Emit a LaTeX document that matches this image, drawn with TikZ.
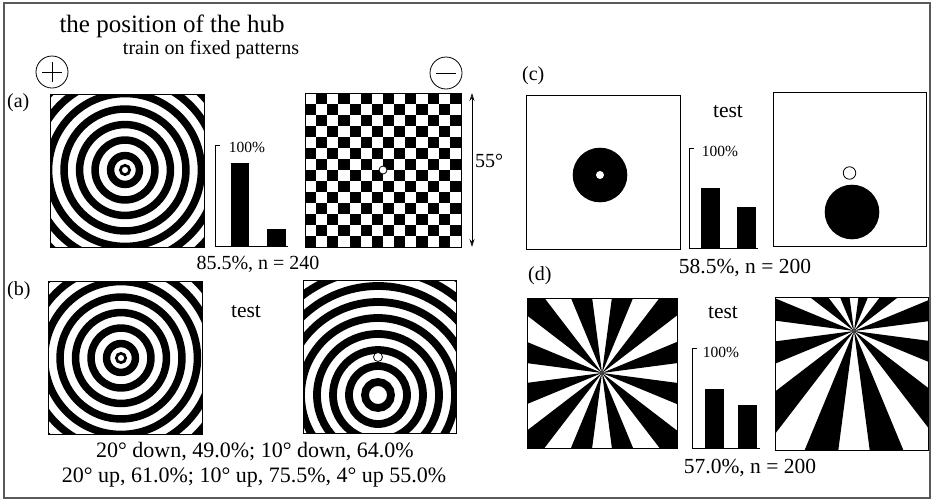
\documentclass[tikz,border=0pt]{standalone}
\usepackage{fontspec}
\setmainfont{Liberation Serif}
\usetikzlibrary{arrows.meta}
\begin{document}
\begin{tikzpicture}[x=1pt,y=-1pt,
  txt/.style={inner sep=0pt,font=\fontsize{20}{22}\selectfont},
  big/.style={inner sep=0pt,font=\fontsize{21.5}{24}\selectfont},
  small/.style={inner sep=0pt,font=\fontsize{15.5}{17}\selectfont},
  frame/.style={draw=black,line width=0.8pt},
  bar/.style={fill=black},
  axis/.style={line width=0.8pt},
  dot/.style={circle,draw=black,fill=white,line width=0.8pt,inner sep=0pt}]
\useasboundingbox (0,0) rectangle (934,501);
\fill[white] (0,0) rectangle (934,501);
\draw[gray!70!black,line width=1.2pt] (4,3) rectangle (930,498);

% titles
\node[anchor=base,inner sep=0pt,font=\fontsize{25}{28}\selectfont] (title) at (172,32) {the position of the hub};
\node[anchor=base,inner sep=0pt,font=\fontsize{20}{22}\selectfont] (sub) at (211,54) {train on fixed patterns};

% plus / minus
\node[circle,draw,line width=0.8pt,minimum size=32pt,inner sep=0pt] (plus) at (52,72) {};
\draw[line width=0.8pt] ([xshift=-10pt]plus.center) -- ([xshift=10pt]plus.center);
\draw[line width=0.8pt] ([yshift=-10pt]plus.center) -- ([yshift=10pt]plus.center);
\node[circle,draw,line width=0.8pt,minimum size=32pt,inner sep=0pt] (minus) at (446,73) {};
\draw[line width=0.8pt] ([xshift=-10pt]minus.center) -- ([xshift=10pt]minus.center);

% panel labels
\node[txt,anchor=west] (la) at (7,103) {(a)};
\node[txt,anchor=west] (lb) at (7,291) {(b)};
\node[txt,anchor=west] (lc) at (522,76) {(c)};
\node[txt,anchor=west] (ld) at (528,276) {(d)};

% ---- (a) rings
\begin{scope}
\clip (50,94) rectangle (204,247);
\draw[line width=2.7pt] (125,170) circle (4.65pt);
\foreach \k in {0,...,6}{\pgfmathsetmacro\rr{14.45+15.5*\k}
  \draw[line width=7.5pt] (125,170) circle (\rr pt);}
\end{scope}
\draw[frame] (50,94) rectangle (204,247);

% ---- (a) checkerboard
\foreach \i in {0,...,13}{
  \foreach \j in {0,...,13}{
    \pgfmathtruncatemacro\s{mod(\i+\j,2)}
    \ifnum\s=1 \fill ({305+\i*156/14},{93+\j*154/14}) rectangle ++({156/14},{154/14}); \fi
  }}
\draw[frame] (305,93) rectangle (461,247);
\node[dot,minimum size=8pt] (hubA) at (383,170) {};

% 55 degree arrow
\coordinate (ar1) at (472,93);
\coordinate (ar2) at (472,247);
\draw[line width=0.8pt,{Stealth[length=8pt,width=5pt,open]}-{Stealth[length=8pt,width=5pt,open]}] (ar1) -- (ar2);
\node[txt] (deg) at (489,161) {55°};

% (a) bars
\draw[axis] (220,145) -- (215,145) -- (215,246) -- (288,246);
\fill[bar] (231,163) rectangle (249,246);
\fill[bar] (267,229) rectangle (286,246);
\node[small] (pa) at (247,147) {100\%};
\node[txt] (ra) at (258,264) {85.5\%, n = 240};

% ---- (b) rings left
\begin{scope}
\clip (48,281) rectangle (202,434);
\draw[line width=2.7pt] (121,358) circle (4.65pt);
\foreach \k in {0,...,6}{\pgfmathsetmacro\rr{14.45+15.5*\k}
  \draw[line width=7.5pt] (121,358) circle (\rr pt);}
\end{scope}
\draw[frame] (48,281) rectangle (202,434);

\node[big] (tb) at (246,312) {test};

% ---- (b) rings right (shifted)
\begin{scope}
\clip (303,280) rectangle (456,433);
\foreach \k in {0,...,8}{\pgfmathsetmacro\rr{13+16*\k}
  \draw[line width=7.8pt] (378,395) circle (\rr pt);}
\end{scope}
\draw[frame] (303,280) rectangle (456,433);
\node[dot,minimum size=9pt] (hubB) at (378,357) {};

\node[inner sep=0pt,font=\fontsize{22}{24}\selectfont] (rb1) at (255,452) {20° down, 49.0\%; 10° down, 64.0\%};
\node[inner sep=0pt,font=\fontsize{22}{24}\selectfont] (rb2) at (254,478) {20° up, 61.0\%; 10° up, 75.5\%, 4° up 55.0\%};

% ---- (c)
\draw[frame] (526,95) rectangle (680,249);
\fill (600,175) circle (27.3pt);
\fill[white] (600,175) circle (4pt);
\draw[frame] (773,92) rectangle (926,246);
\fill (852,212) circle (27.3pt);
\node[dot,minimum size=12.5pt] (hubC) at (849.5,173) {};
\node[big] (tc) at (728,112) {test};
\draw[axis] (694,148) -- (689,148) -- (689,248) -- (758,248);
\fill[bar] (701,188) rectangle (720,248);
\fill[bar] (737,207) rectangle (756,248);
\node[small] (pc) at (720,151) {100\%};
\node[big] (rc) at (745,268) {58.5\%, n = 200};

% ---- (d) sunbursts
\begin{scope}
\clip (527,298) rectangle (677,448);
\foreach \k in {0,...,11} \fill (602,373) -- +({97.5+30*\k}:300pt) -- +({105+30*\k}:300pt) -- +({112.5+30*\k}:300pt) -- cycle;
\end{scope}
\draw[frame] (527,298) rectangle (677,448);
\begin{scope}
\clip (775,297) rectangle (928,450);
\foreach \k in {0,...,11} \fill (854,331) -- +({97.5+30*\k}:400pt) -- +({105+30*\k}:400pt) -- +({112.5+30*\k}:400pt) -- cycle;
\end{scope}
\draw[frame] (775,297) rectangle (928,450);
\node[big] (td) at (723,313) {test};
\draw[axis] (697,348) -- (692,348) -- (692,448) -- (760,448);
\fill[bar] (705,389) rectangle (724,448);
\fill[bar] (738,405) rectangle (757,448);
\node[small] (pd) at (721,352) {100\%};
\node[big] (rd) at (750,468) {57.0\%, n = 200};
\end{tikzpicture}
\end{document}
